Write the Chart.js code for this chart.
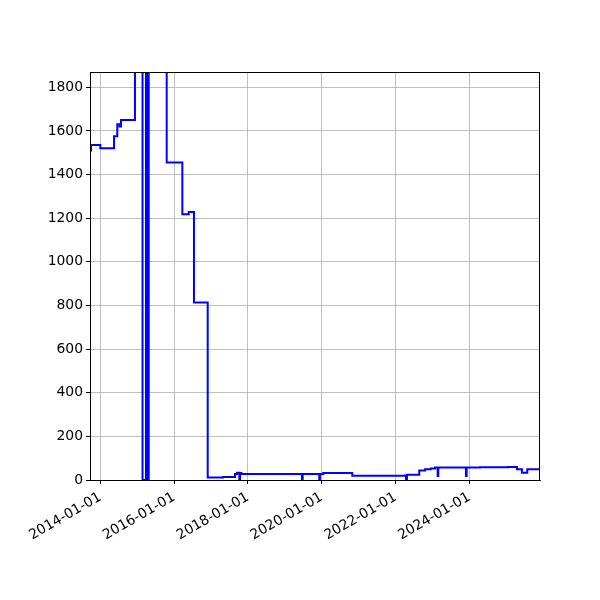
<!DOCTYPE html>
<html>
<head>
<meta charset="utf-8">
<script src="https://cdn.jsdelivr.net/npm/chart.js@4.4.1/dist/chart.umd.min.js"></script>
<style>
html,body{margin:0;padding:0;background:#fff;}
#wrap{width:600px;height:600px;}
</style>
</head>
<body>
<div id="wrap"><canvas id="c" width="600" height="600"></canvas></div>
<script>
// Step-change dates (value holds from this date until the next one)
const dates = [
  '2013-09-21','2013-10-01','2014-01-01','2014-05-17','2014-06-18','2014-07-10','2014-07-25',
  '2014-12-10','2015-02-23','2015-03-29','2015-04-11','2015-04-25','2015-10-20',
  '2016-03-23','2016-05-25','2016-07-16','2016-11-29','2017-04-29','2017-08-26',
  '2017-09-15','2017-10-08','2017-10-15','2017-10-29','2019-06-20','2019-06-27',
  '2019-12-08','2019-12-15','2020-01-17','2020-10-30','2022-04-05','2022-04-15',
  '2022-04-24','2022-08-24','2022-10-20','2022-12-15','2023-01-27','2023-02-22',
  '2023-02-28','2023-11-29','2023-12-06','2024-04-16','2025-01-18','2025-04-17',
  '2025-06-05','2025-07-28','2025-12-01'
];
const values = [
  1510,1535,1520,1575,1630,1620,1650,
  2600,0,2600,0,2600,1455,
  1218,1228,814,12,14,28,
  33,0,32,27,0,27,
  0,27,32,20,21,0,
  24,43,49,53,57,18,
  57,18,57,58,60,49,
  33,49,49
];
const tickDates = ['2014-01-01','2016-01-01','2018-01-01','2020-01-01','2022-01-01','2024-01-01'];
const yTicks = [0,200,400,600,800,1000,1200,1400,1600,1800];
const yMax = 1870;

const DAY = 86400000;
const base = Date.UTC(2014,0,1);
function toDay(s){ const p = s.split('-').map(Number); return (Date.UTC(p[0],p[1]-1,p[2]) - base)/DAY; }
const points = dates.map((d,i)=>({x: toDay(d), y: values[i]}));
const xTickVals = tickDates.map(toDay);
const labelMap = {}; tickDates.forEach((d,i)=>labelMap[xTickVals[i]] = d);

const frame = {
  id:'frame',
  afterDraw(chart){
    const a = chart.chartArea, ctx = chart.ctx;
    ctx.save(); ctx.strokeStyle='#000'; ctx.lineWidth=1;
    ctx.strokeRect(Math.round(a.left)+0.5, Math.round(a.top)+0.5, Math.round(a.right-a.left)-1, Math.round(a.bottom-a.top));
    ctx.restore();
  }
};

const font = {family:'"DejaVu Sans", sans-serif', size: 13.9};

new Chart(document.getElementById('c'), {
  type:'line',
  data:{datasets:[{
    data: points,
    borderColor:'#0000ff',
    borderWidth:2,
    pointRadius:0,
    stepped:true,
    fill:false,
    tension:0
  }]},
  options:{
    responsive:false,
    devicePixelRatio:1,
    animation:false,
    events:[],
    layout:{padding:{top:72,right:60,left:0,bottom:0}},
    plugins:{legend:{display:false},tooltip:{enabled:false}},
    scales:{
      x:{
        type:'linear',
        min: points[0].x,
        max: points[points.length-1].x,
        afterBuildTicks(s){ s.ticks = xTickVals.map(v=>({value:v})); },
        afterFit(s){ s.height = 120; },
        ticks:{
          callback:(v)=>labelMap[v] || '',
          autoSkip:false, minRotation:30, maxRotation:30,
          color:'#000', font, padding:5
        },
        grid:{color:'#b0b0b0', lineWidth:0.8, tickColor:'#000', tickLength:4, tickWidth:1},
        border:{display:true,color:'#000',width:1}
      },
      y:{
        type:'linear',
        min:0, max:yMax,
        afterBuildTicks(s){ s.ticks = yTicks.map(v=>({value:v})); },
        afterFit(s){ s.width = 90; },
        ticks:{color:'#000', font, padding:3, callback:(v)=>String(v)},
        grid:{color:'#b0b0b0', lineWidth:0.8, tickColor:'#000', tickLength:4, tickWidth:1},
        border:{display:true,color:'#000',width:1}
      }
    }
  },
  plugins:[frame]
});
</script>
</body>
</html>
